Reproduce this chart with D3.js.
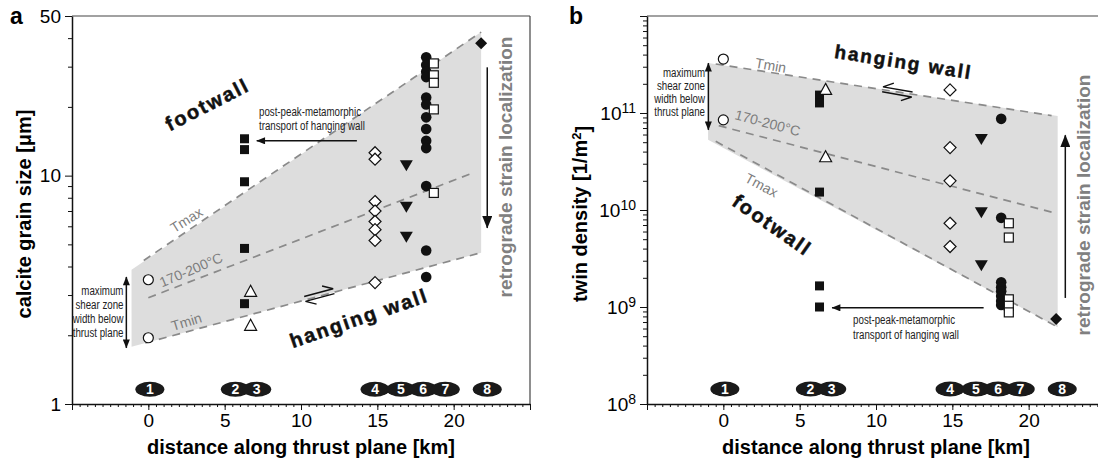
<!DOCTYPE html>
<html>
<head>
<meta charset="utf-8">
<script src="https://cdn.jsdelivr.net/npm/d3@7"></script>
<style>
    body { margin: 0; background: #fff; }
    svg { font-family: "Liberation Sans", Arial, sans-serif; }
</style>
</head>
<body>
<div id="chart"></div>
<script>
// site numbers and where their labels sit along the thrust (km)
var siteNames = ["1", "2", "3", "4", "5", "6", "7", "8"]
var siteKm = [0.1, 5.7, 7.1, 14.85, 16.55, 18.0, 19.45, 22.2]

// one entry per marker style, same order in every list below
var markerTypes = ["openCircle", "square", "openTri", "openDiamond", "downTri", "dot", "openSquare", "diamond"]
var markerKm = [0, 6.3, 6.7, 14.85, 16.9, 18.2, 18.7, 21.8]

// panel a: calcite grain size [um]
var grainSize = [
    [3.5, 1.95],
    [14.5, 13.0, 9.4, 4.8, 2.75],
    [3.1, 2.2],
    [12.6, 11.8, 7.7, 7.0, 6.3, 5.8, 5.2, 3.4],
    [11.1, 7.3, 5.4],
    [33, 30.5, 28.5, 27, 22, 20.5, 18, 16, 14.2, 13.2, 9, 4.7, 3.6],
    [31, 27.5, 25.5, 19.5, 8.4],
    [38]
]
var grainShade = [[-1.1, 3.87], [21.8, 42.5], [21.8, 4.6], [-1.1, 1.78]]
var grainTmax = [[-0.3, 4.25], [21.8, 42.5]]
var grainMid = [[0, 2.92], [21.3, 10.3]]
var grainTmin = [[-0.2, 1.85], [21.8, 4.6]]

// panel b: twin density [1/m2]
var twinDensity = [
    [3.6e11, 8.5e10],
    [1.53e11, 1.27e11, 1.53e10, 1.65e9, 1.0e9],
    [1.73e11, 3.5e10],
    [1.73e11, 4.4e10, 2.0e10, 7.3e9, 4.2e9],
    [5.4e10, 9.5e9, 2.7e9],
    [8.7e10, 8.3e9, 1.8e9, 1.6e9, 1.45e9, 1.3e9, 1.15e9, 1.05e9],
    [7.3e9, 5.2e9, 1.2e9, 1.03e9, 8.8e8],
    [7.5e8]
]
var twinShade = [[-1.0, 3.27e11], [21.9, 9.3e10], [21.9, 6.2e8], [-1.0, 5.3e10]]
var twinTmin = [[-0.5, 3.2e11], [21.5, 9.4e10]]
var twinMid = [[-0.3, 7.4e10], [21.5, 9.5e9]]
var twinTmax = [[-0.5, 5.1e10], [21.9, 6.2e8]]

// tick values
var kmMajor = [-5, 0, 5, 10, 15, 20, 25]
var kmMinor = d3.range(-5, 25.01, 0.5)
var grainMajor = [1, 10, 50]
var grainMinor = [2, 3, 4, 5, 6, 7, 8, 9, 20, 30, 40]
var twinMajor = [1e8, 1e9, 1e10, 1e11, 1e12]
var twinMinor = []
;[1e8, 1e9, 1e10, 1e11].forEach(function(dec) {
    for (var k = 2; k <= 9; k++) twinMinor.push(k * dec)
})

var plotTop = 16, plotBottom = 404, plotWidth = 458
var ink = "#111", dashGray = "#8a8a8a", labelGray = "#7d7d7d"

var svg = d3.select("#chart").append("svg")
    .attr("width", 1098)
    .attr("height", 470)

// arrow heads
var defs = svg.append("defs")
defs.append("marker")
    .attr("id", "head")
    .attr("viewBox", "0 0 10 8")
    .attr("refX", 9.5).attr("refY", 4)
    .attr("markerWidth", 10).attr("markerHeight", 7)
    .attr("markerUnits", "userSpaceOnUse")
    .attr("orient", "auto-start-reverse")
    .append("path").attr("d", "M0,0L10,4L0,8Z").attr("fill", ink)
defs.append("marker")
    .attr("id", "bighead")
    .attr("viewBox", "0 0 10 8")
    .attr("refX", 9.5).attr("refY", 4)
    .attr("markerWidth", 13).attr("markerHeight", 10)
    .attr("markerUnits", "userSpaceOnUse")
    .attr("orient", "auto-start-reverse")
    .append("path").attr("d", "M0,0L10,4L0,8Z").attr("fill", ink)

function makeScales(left, yDomain) {
    return {
        x: d3.scaleLinear().domain([-5, 25]).range([left, left + plotWidth]),
        y: d3.scaleLog().domain(yDomain).range([plotBottom, plotTop])
    }
}

function styleAxis(sel, size) {
    sel.attr("font-family", null).attr("font-size", size)
    sel.selectAll(".tick line").attr("stroke", ink)
    sel.select(".domain").attr("stroke", ink).attr("stroke-width", 1.5)
}

function drawAxes(g, s, yMajor, yMinor, yFormat, boxRight) {
    // frame
    g.append("line").attr("x1", s.x(-5)).attr("x2", s.x(25)).attr("y1", plotTop).attr("y2", plotTop)
        .attr("stroke", "#444").attr("stroke-width", 1.2)
    if (boxRight) {
        g.append("line").attr("x1", s.x(25)).attr("x2", s.x(25)).attr("y1", plotTop).attr("y2", plotBottom)
            .attr("stroke", "#444").attr("stroke-width", 1.2)
    }

    g.append("g")
        .attr("transform", "translate(0," + plotBottom + ")")
        .call(d3.axisBottom(s.x).tickValues(kmMinor).tickSize(3).tickSizeOuter(0).tickFormat(""))
        .call(function(a) { styleAxis(a, 10); a.select(".domain").remove() })
    g.append("g")
        .attr("transform", "translate(0," + plotBottom + ")")
        .call(d3.axisBottom(s.x).tickValues(kmMajor).tickSize(6).tickSizeOuter(0).tickPadding(4)
            .tickFormat(function(d) { return d < 0 || d > 20 ? "" : d }))
        .call(function(a) { styleAxis(a, 19) })

    g.append("g")
        .attr("transform", "translate(" + s.x(-5) + ",0)")
        .call(d3.axisLeft(s.y).tickValues(yMinor).tickSize(4).tickSizeOuter(0).tickFormat(""))
        .call(function(a) { styleAxis(a, 10); a.select(".domain").remove() })
    var ya = g.append("g")
        .attr("transform", "translate(" + s.x(-5) + ",0)")
        .call(d3.axisLeft(s.y).tickValues(yMajor).tickSize(7).tickSizeOuter(0).tickPadding(4).tickFormat(yFormat))
        .call(function(a) { styleAxis(a, 19) })
    return ya
}

function dashed(g, s, pts) {
    g.append("path")
        .attr("d", d3.line().x(function(d) { return s.x(d[0]) }).y(function(d) { return s.y(d[1]) })(pts))
        .attr("fill", "none")
        .attr("stroke", dashGray)
        .attr("stroke-width", 1.7)
        .attr("stroke-dasharray", "8,6")
}

function drawMarkers(g, s, values) {
    markerTypes.forEach(function(type, i) {
        var pts = values[i].map(function(v) { return [markerKm[i], v] })
        var sel = g.append("g").selectAll("g").data(pts).enter().append("g")
            .attr("transform", function(d) { return "translate(" + s.x(d[0]) + "," + s.y(d[1]) + ")" })
        var open = type.indexOf("open") === 0
        var shape
        if (type === "openCircle" || type === "dot") {
            shape = sel.append("circle").attr("r", open ? 5 : 5.3)
        } else if (type === "square" || type === "openSquare") {
            shape = sel.append("rect").attr("x", -4.5).attr("y", -4.5).attr("width", 9).attr("height", 9)
        } else if (type === "openTri") {
            shape = sel.append("path").attr("d", "M0,-6.5L6,4.5L-6,4.5Z")
        } else if (type === "downTri") {
            shape = sel.append("path").attr("d", "M0,6L6.5,-5L-6.5,-5Z")
        } else {
            shape = sel.append("path").attr("d", "M0,-6L6,0L0,6L-6,0Z")
        }
        if (open) shape.attr("fill", "#fff").attr("stroke", ink).attr("stroke-width", 1.2)
        else shape.attr("fill", ink)
    })
}

function drawSites(g, s, level) {
    var site = g.append("g").selectAll("g").data(siteKm).enter().append("g")
        .attr("transform", function(d) { return "translate(" + s.x(d) + "," + s.y(level) + ")" })
    site.append("ellipse").attr("rx", 14.5).attr("ry", 7.5).attr("fill", "#1a1a1a")
    site.append("text")
        .attr("text-anchor", "middle")
        .attr("dy", "0.36em")
        .attr("fill", "#fff")
        .attr("font-size", 14)
        .attr("font-weight", "bold")
        .text(function(d, i) { return siteNames[i] })
}

function rotText(g, px, py, str, angle) {
    return g.append("text")
        .attr("transform", "translate(" + px + "," + py + ") rotate(" + angle + ")")
        .attr("text-anchor", "middle")
        .attr("dy", "0.35em")
        .text(str)
}

function wallLabel(g, px, py, str, angle, size) {
    rotText(g, px, py, str, angle)
        .attr("font-size", size)
        .attr("font-weight", "bold")
        .attr("letter-spacing", 2)
        .attr("stroke", ink)
        .attr("stroke-width", 0.5)
        .attr("fill", ink)
}

function tempLabel(g, px, py, str, angle) {
    rotText(g, px, py, str, angle).attr("font-size", 14).attr("fill", labelGray)
}

// half-arrow pair showing sense of shear
function shear(g, px, py, angle, flip) {
    var k = flip ? -1 : 1
    var sg = g.append("g")
        .attr("transform", "translate(" + px + "," + py + ") rotate(" + angle + ") scale(" + k + ",1)")
        .attr("fill", "none").attr("stroke", ink).attr("stroke-width", 1.4)
    sg.append("path").attr("d", "M-15,-2.5L15,-2.5L5,-8")
    sg.append("path").attr("d", "M15,2.5L-15,2.5L-5,8")
}

function arrow(g, x1, y1, x2, y2, head, both) {
    var l = g.append("line")
        .attr("x1", x1).attr("y1", y1).attr("x2", x2).attr("y2", y2)
        .attr("stroke", ink).attr("stroke-width", 1.5)
        .attr("marker-end", "url(#" + head + ")")
    if (both) l.attr("marker-start", "url(#" + head + ")")
}

// small condensed notes (narrowed by a horizontal squeeze)
function noteLines(g, px, py, lines, anchor, step) {
    var t = g.append("g")
        .attr("transform", "translate(" + px + "," + py + ") scale(0.72,1)")
        .append("text")
        .attr("font-size", 13.5)
        .attr("fill", "#222")
        .attr("text-anchor", anchor)
    lines.forEach(function(str, i) {
        t.append("tspan").attr("x", 0).attr("y", i * step).text(str)
    })
}

function retroText(g, px, py) {
    g.append("text")
        .attr("transform", "translate(" + px + "," + py + ") rotate(-90)")
        .attr("text-anchor", "middle")
        .attr("dy", "0.35em")
        .attr("font-size", 19)
        .attr("font-weight", "bold")
        .attr("fill", "#808080")
        .text("retrograde strain localization")
}

function titles(g, s, yTitle, yTitleX, letter, letterX) {
    g.append("text")
        .attr("x", (s.x(-5) + s.x(25)) / 2).attr("y", 454)
        .attr("text-anchor", "middle").attr("font-size", 20).attr("font-weight", "bold")
        .text("distance along thrust plane [km]")
    var yt = g.append("text")
        .attr("transform", "translate(" + yTitleX + "," + ((plotTop + plotBottom) / 2 + 4) + ") rotate(-90)")
        .attr("text-anchor", "middle").attr("dy", "0.35em")
        .attr("font-size", 20).attr("font-weight", "bold")
    yTitle(yt)
    g.append("text").attr("x", letterX).attr("y", 24)
        .attr("font-size", 23).attr("font-weight", "bold").text(letter)
}

var shadeLine = function(s) {
    return d3.line().x(function(d) { return s.x(d[0]) }).y(function(d) { return s.y(d[1]) })
}

// ---------------- panel a ----------------
var ga = svg.append("g")
var sa = makeScales(72, [1, 50])

ga.append("path")
    .attr("d", shadeLine(sa)(grainShade) + "Z")
    .attr("fill", "#dddddd")

dashed(ga, sa, grainTmax)
dashed(ga, sa, grainMid)
dashed(ga, sa, grainTmin)

tempLabel(ga, sa.x(2.5), sa.y(6.4), "Tmax", -32)
tempLabel(ga, sa.x(2.8), sa.y(3.87), "170-200\u00b0C", -23)
tempLabel(ga, sa.x(2.5), sa.y(2.29), "Tmin", -17)

wallLabel(ga, sa.x(3.86), sa.y(20.5), "footwall", -27, 20)
wallLabel(ga, sa.x(13.8), sa.y(2.38), "hanging wall", -19, 20)

shear(ga, sa.x(11.2), sa.y(3.0), -15, false)

// transport arrow
var aY = sa.y(14.2)
arrow(ga, sa.x(13.66), aY, sa.x(7.1), aY, "head")
noteLines(ga, sa.x(7.25), aY - 25, ["post-peak-metamorphic", "transport of hanging wall"], "start", 14)

// shear zone width
arrow(ga, sa.x(-1.44), sa.y(3.6), sa.x(-1.44), sa.y(1.76), "head", true)
var midA = (sa.y(3.6) + sa.y(1.76)) / 2
noteLines(ga, sa.x(-1.63), midA - 17, ["maximum", "shear zone", "width below", "thrust plane"], "end", 14)

// retrograde localization
arrow(ga, sa.x(22.2), sa.y(29.8), sa.x(22.2), sa.y(5.9), "bighead")
retroText(ga, sa.x(23.4), 167)

drawMarkers(ga, sa, grainSize)
drawSites(ga, sa, 1.16)

drawAxes(ga, sa, grainMajor, grainMinor, function(d) { return d }, true)
titles(ga, sa, function(t) { t.text("calcite grain size [\u03bcm]") }, 24, "a", 10)

// ---------------- panel b ----------------
var gb = svg.append("g")
var sb = makeScales(647, [1e8, 1e12])

gb.append("path")
    .attr("d", shadeLine(sb)(twinShade) + "Z")
    .attr("fill", "#dddddd")

dashed(gb, sb, twinTmin)
dashed(gb, sb, twinMid)
dashed(gb, sb, twinTmax)

tempLabel(gb, sb.x(3.1), sb.y(3.1e11), "Tmin", 10)
tempLabel(gb, sb.x(2.9), sb.y(7.9e10), "170-200\u00b0C", 15)
tempLabel(gb, sb.x(2.5), sb.y(1.8e10), "Tmax", 28)

wallLabel(gb, sb.x(11.8), sb.y(3.36e11), "hanging wall", 9, 19)
wallLabel(gb, sb.x(3.2), sb.y(7e9), "footwall", 35, 20)

shear(gb, sb.x(11.4), sb.y(1.65e11), 10, true)

var bY = sb.y(9.8e8)
arrow(gb, sb.x(17.05), bY, sb.x(7.12), bY, "head")
noteLines(gb, sb.x(8.5), bY + 16, ["post-peak-metamorphic", "transport of hanging wall"], "start", 15)

arrow(gb, sb.x(-0.98), sb.y(3.27e11), sb.x(-0.98), sb.y(6.7e10), "head", true)
var midB = (sb.y(3.27e11) + sb.y(6.7e10)) / 2
noteLines(gb, sb.x(-1.2), midB - 19, ["maximum", "shear zone", "width below", "thrust plane"], "end", 13)

arrow(gb, sb.x(22.4), sb.y(1.24e9), sb.x(22.4), sb.y(5.9e10), "bighead")
retroText(gb, sb.x(23.6), 205)

drawMarkers(gb, sb, twinDensity)
drawSites(gb, sb, 1.43e8)

var yb = drawAxes(gb, sb, twinMajor, twinMinor, function(d) { return "" }, false)
yb.selectAll(".tick text").each(function(d) {
    var e = Math.round(Math.log10(d))
    if (e > 11) return
    var t = d3.select(this)
    t.append("tspan").text("10")
    t.append("tspan").attr("dy", "-0.45em").attr("font-size", 14).text(e)
})
titles(gb, sb, function(t) {
    t.append("tspan").text("twin density [1/m")
    t.append("tspan").attr("dy", "-0.45em").attr("font-size", 13).text("2")
    t.append("tspan").attr("dy", "0.45em").text("]")
}, 580, "b", 569)
</script>
</body>
</html>
